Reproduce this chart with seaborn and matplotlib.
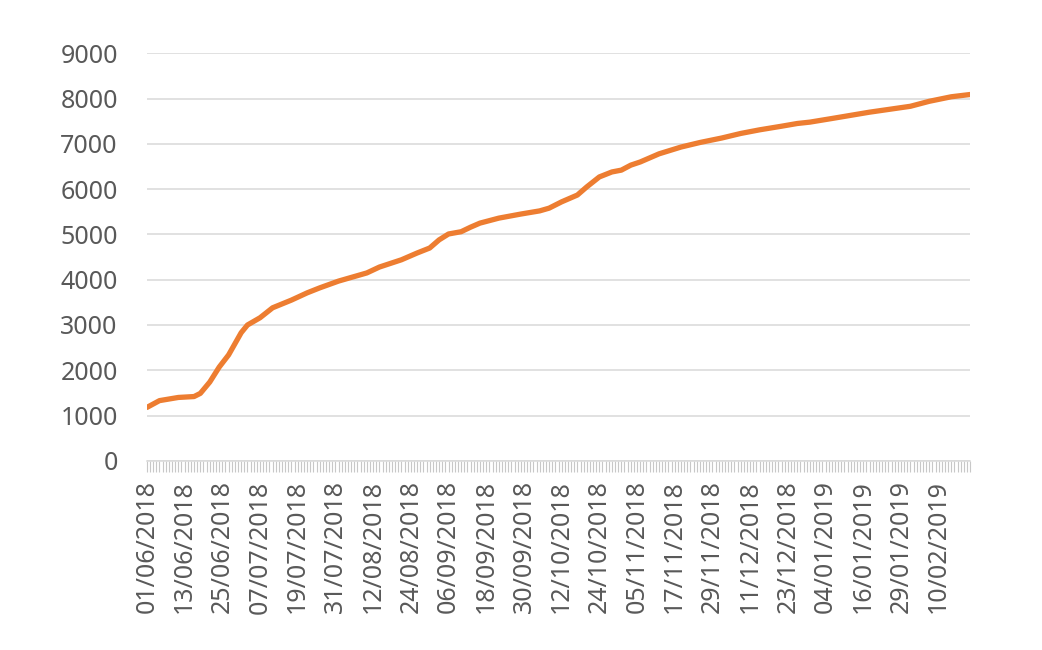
import pandas as pd
import matplotlib.pyplot as plt
import seaborn as sns

# -------------------------------
# Data
# -------------------------------
# category axis: one category per day, with two days missing in the source data
start_date = "2018-06-01"
end_date = "2019-02-20"
missing_dates = ["2018-09-01", "2019-01-20"]

# cumulative total at selected dates
knot_dates = [
    "2018-06-01", "2018-06-05", "2018-06-11", "2018-06-16", "2018-06-18",
    "2018-06-21", "2018-06-24", "2018-06-27", "2018-07-01", "2018-07-03",
    "2018-07-07", "2018-07-11", "2018-07-17", "2018-07-22", "2018-07-26",
    "2018-08-01", "2018-08-10", "2018-08-14", "2018-08-21", "2018-08-26",
    "2018-08-30", "2018-09-03", "2018-09-06", "2018-09-10", "2018-09-13",
    "2018-09-16", "2018-09-22", "2018-09-29", "2018-10-05", "2018-10-08",
    "2018-10-12", "2018-10-17", "2018-10-20", "2018-10-24", "2018-10-28",
    "2018-10-31", "2018-11-03", "2018-11-06", "2018-11-12", "2018-11-19",
    "2018-11-25", "2018-12-02", "2018-12-08", "2018-12-14", "2018-12-21",
    "2018-12-26", "2018-12-30", "2019-01-06", "2019-01-12", "2019-01-18",
    "2019-01-26", "2019-02-01", "2019-02-07", "2019-02-14", "2019-02-20",
]
knot_values = [
    1180, 1330, 1400, 1420, 1490,
    1740, 2070, 2340, 2830, 3000,
    3160, 3380, 3550, 3710, 3820,
    3970, 4150, 4280, 4440, 4590,
    4700, 4880, 5010, 5060, 5160,
    5250, 5360, 5450, 5520, 5580,
    5720, 5870, 6050, 6270, 6380,
    6420, 6530, 6600, 6780, 6930,
    7030, 7130, 7230, 7310, 7390,
    7450, 7480, 7560, 7630, 7700,
    7770, 7830, 7940, 8040, 8090,
]

y_ticks = [0, 1000, 2000, 3000, 4000, 5000, 6000, 7000, 8000, 9000]

# -------------------------------
# Build category axis
# -------------------------------
cats = pd.date_range(start_date, end_date)
cats = cats.drop(pd.to_datetime(missing_dates))
n_cat = len(cats)

df = pd.DataFrame({"date": pd.to_datetime(knot_dates), "value": knot_values})
df["pos"] = [cats.get_loc(d) for d in df["date"]]

# -------------------------------
# Plot
# -------------------------------
sns.set_style("white")
plt.rcParams["font.family"] = ["Noto Sans", "DejaVu Sans"]

fig = plt.figure(figsize=(10.42, 6.5), dpi=100)
ax = fig.add_axes([0.141, 0.291, 0.79, 0.627])

sns.lineplot(data=df, x="pos", y="value", color="#ED7D31", linewidth=3.8, ax=ax)

grid_col = "#d9d9d9"
text_col = "#595959"

ax.set_ylim(0, 9000)
ax.set_xlim(0, n_cat - 1)
ax.set_yticks(y_ticks)
ax.set_yticklabels([str(v) for v in y_ticks])
ax.yaxis.grid(True, color=grid_col, linewidth=1.1)
ax.set_axisbelow(True)

# label every 12th category, small tick on every category
major = list(range(0, n_cat, 12))
ax.set_xticks(major)
ax.set_xticklabels([cats[i].strftime("%d/%m/%Y") for i in major], rotation=90)
ax.set_xticks(range(n_cat), minor=True)

ax.tick_params(axis="y", left=False, length=0, pad=21, labelsize=18, labelcolor=text_col)
ax.tick_params(axis="x", which="both", bottom=True, length=8, width=0.8,
               color="#c8c8c8", pad=6, labelsize=18, labelcolor=text_col)

for s in ["top", "right", "left"]:
    ax.spines[s].set_visible(False)
ax.spines["bottom"].set_color(grid_col)
ax.spines["bottom"].set_linewidth(1.1)

ax.set_xlabel("")
ax.set_ylabel("")

fig.savefig("out.png", dpi=100)
